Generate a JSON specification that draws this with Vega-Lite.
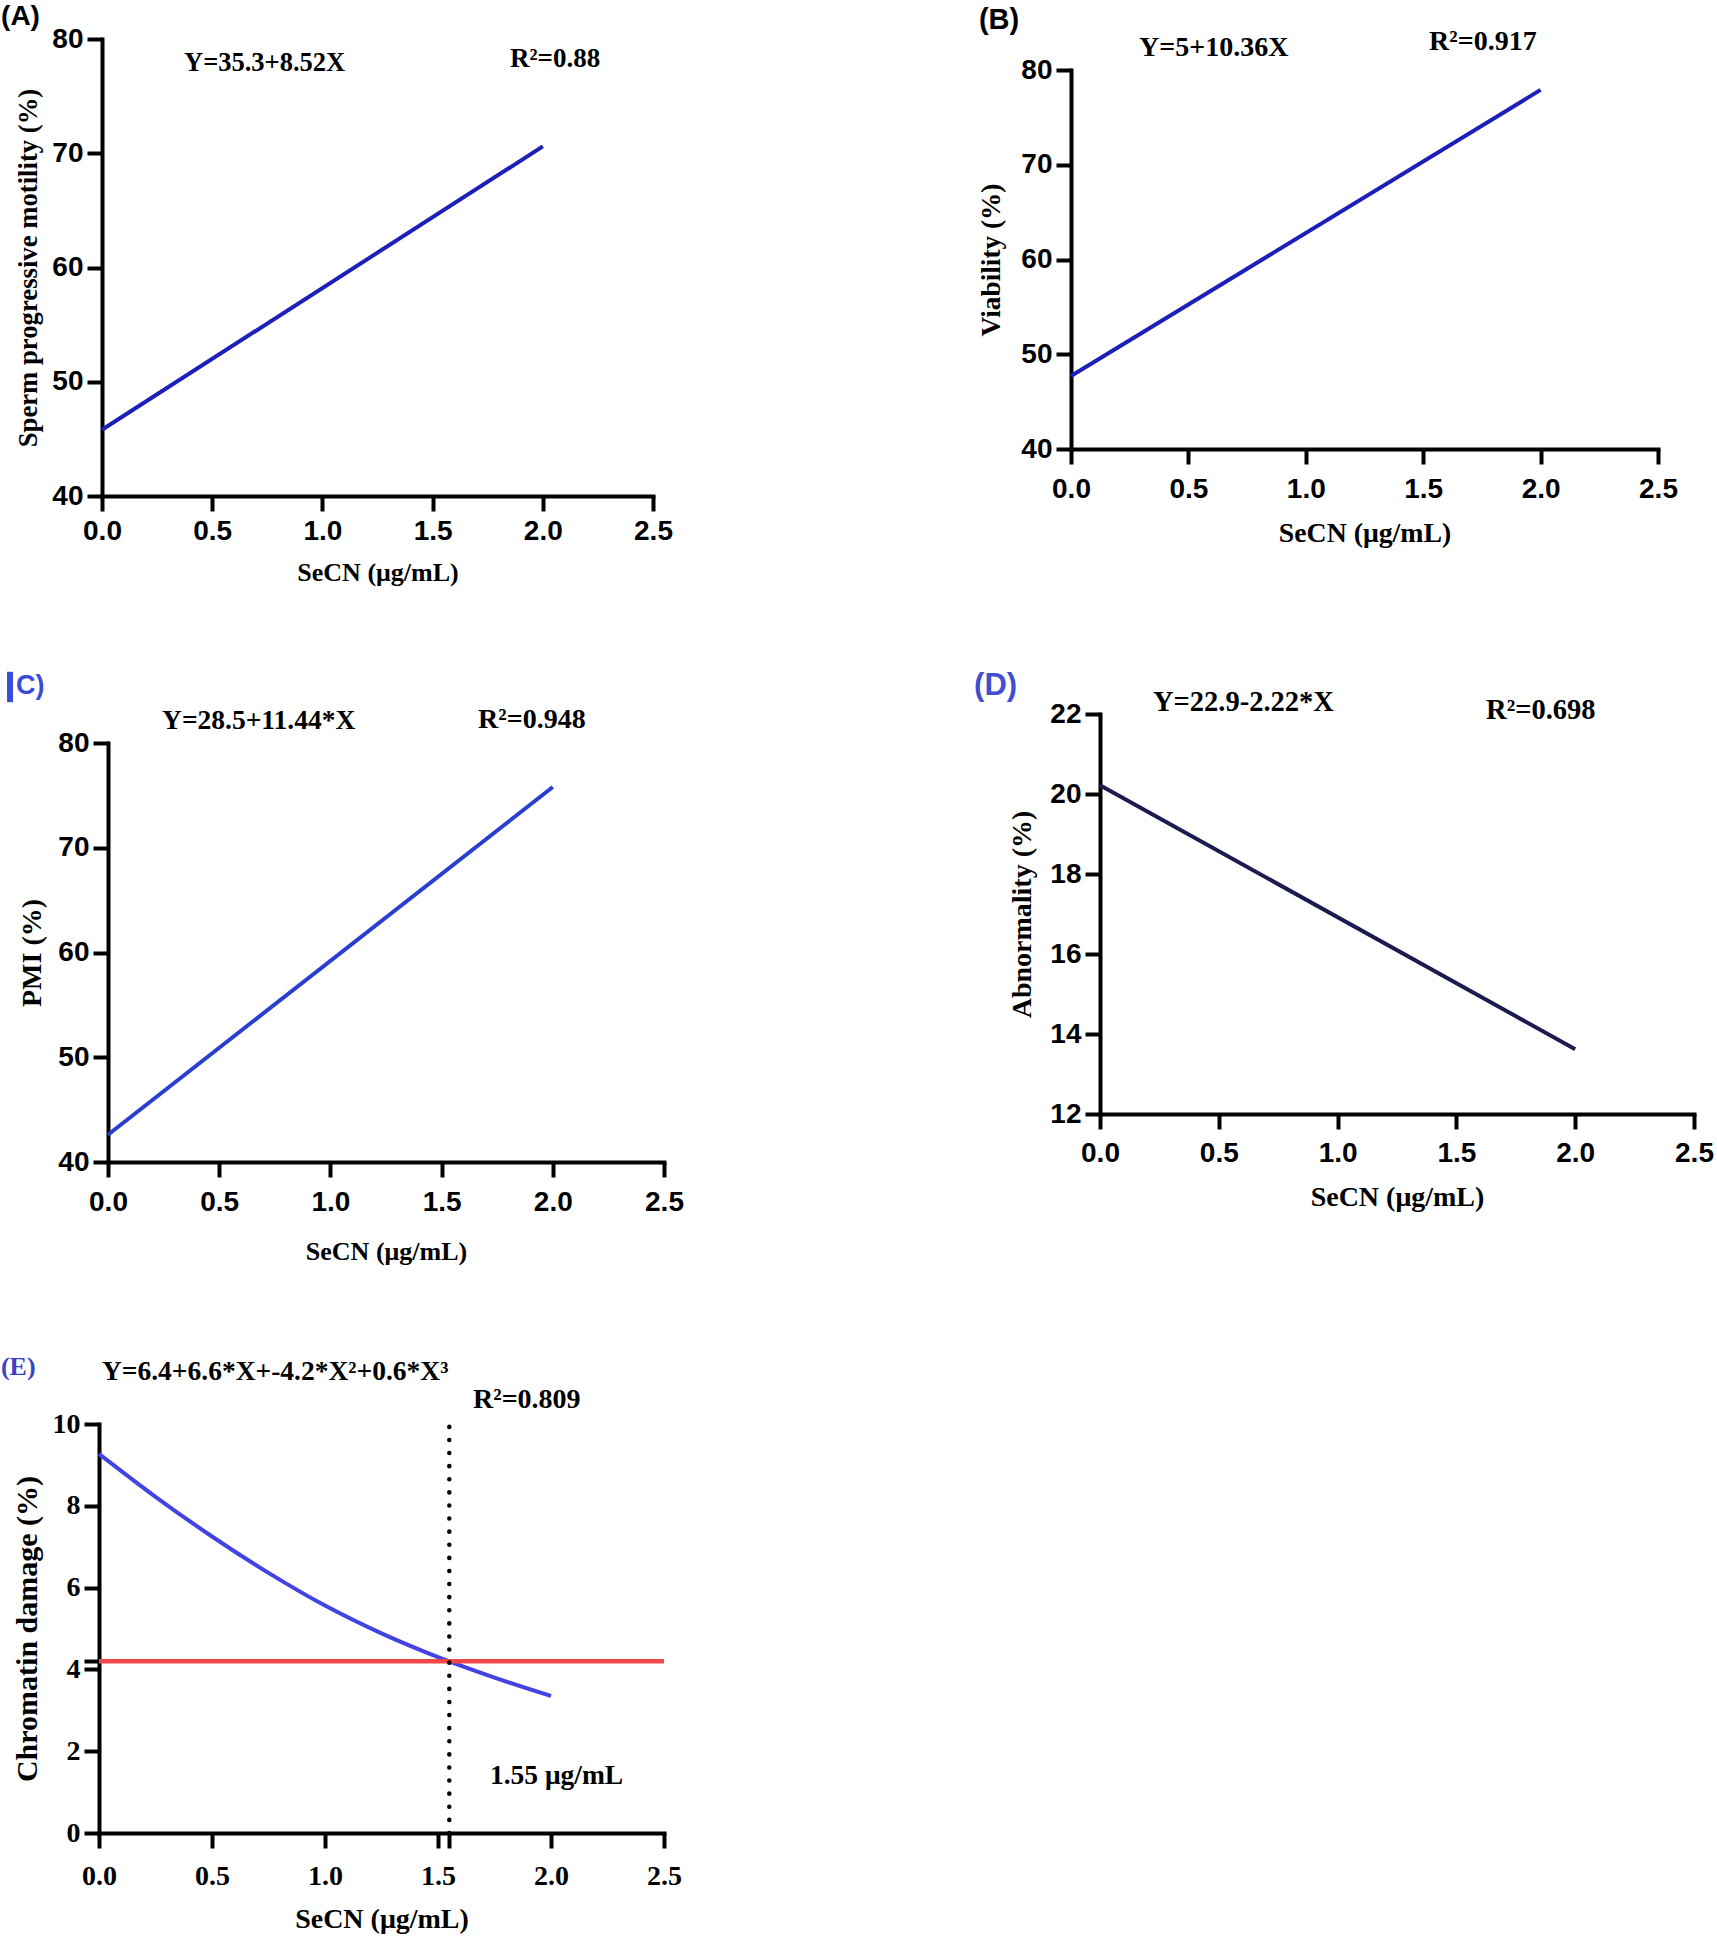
{
  "$schema": "https://vega.github.io/schema/vega-lite/v6.json",
  "padding": {"top": 3, "left": 0, "right": 0, "bottom": 0},
  "background": "white",
  "datasets": {
    "A": [{"x": 0, "y": 45.8}, {"x": 2, "y": 70.6}],
    "B": [{"x": 0, "y": 47.7}, {"x": 2, "y": 77.9}],
    "C": [{"x": 0, "y": 42.6}, {"x": 2, "y": 75.8}],
    "D": [{"x": 0, "y": 20.22}, {"x": 2, "y": 13.62}],
    "E": [{"x": 0, "y": 9.27}, {"x": 0.25, "y": 8.22}, {"x": 0.5, "y": 7.25}, {"x": 0.75, "y": 6.36}, {"x": 1, "y": 5.56}, {"x": 1.25, "y": 4.88}, {"x": 1.5, "y": 4.3}, {"x": 1.75, "y": 3.8}, {"x": 2, "y": 3.35}]
  },
  "config": {
    "view": {"stroke": null},
    "axis": {
      "domainColor": "black", "domainWidth": 4, "domainCap": "square",
      "tickColor": "black", "tickWidth": 4, "tickSize": 15,
      "grid": false, "labelColor": "black", "titleColor": "black",
      "labelFont": "Liberation Sans", "labelFontWeight": "bold", "labelFontSize": 28,
      "titleFont": "Liberation Serif", "titleFontWeight": "bold", "titleFontSize": 26,
      "labelOverlap": false, "labelFlush": false, "labelBound": false
    },
    "axisY": {"labelPadding": 4}
  },
  "concat": [
    {
      "concat": [
        {
          "concat": [
            {
              "width": 554, "height": 457,
              "layer": [
                {"data": {"name": "A"}, "mark": {"type": "line", "color": "#1c1fb8", "strokeWidth": 4},
                 "encoding": {
                   "x": {"field": "x", "type": "quantitative", "scale": {"domain": [0, 2.5], "nice": false, "zero": false, "range": [3, 554]}, "axis": {"values": [0, 0.5, 1, 1.5, 2, 2.5], "format": ".1f", "title": "SeCN (μg/mL)", "labelPadding": 6.5, "titlePadding": 14}},
                   "y": {"field": "y", "type": "quantitative", "scale": {"domain": [40, 80], "nice": false, "zero": false}, "axis": {"values": [40, 50, 60, 70, 80], "title": "Sperm progressive motility  (%)", "titleFontSize": 26.7, "titlePadding": 9, "offset": -3}}}},
                {"data": {"values": [{}]}, "mark": {"type": "text", "text": "(A)", "font": "Liberation Sans", "fontWeight": "bold", "fontSize": 28, "align": "left", "baseline": "middle", "color": "black"},
                 "encoding": {"x": {"datum": -0.458, "type": "quantitative"}, "y": {"datum": 81.9, "type": "quantitative"}}},
                {"data": {"values": [{}]}, "mark": {"type": "text", "text": "Y=35.3+8.52X", "font": "Liberation Serif", "fontWeight": "bold", "fontSize": 26.5, "align": "left", "baseline": "middle", "color": "black"},
                 "encoding": {"x": {"datum": 0.372, "type": "quantitative"}, "y": {"datum": 77.9, "type": "quantitative"}}},
                {"data": {"values": [{}]}, "mark": {"type": "text", "text": "R²=0.88", "font": "Liberation Serif", "fontWeight": "bold", "fontSize": 27, "align": "left", "baseline": "middle", "color": "black"},
                 "encoding": {"x": {"datum": 1.851, "type": "quantitative"}, "y": {"datum": 78.25, "type": "quantitative"}}}
              ]
            },
            {
              "width": 587, "height": 410,
              "layer": [
                {"data": {"name": "B"}, "mark": {"type": "line", "color": "#1c1fb8", "strokeWidth": 4},
                 "encoding": {
                   "x": {"field": "x", "type": "quantitative", "scale": {"domain": [0, 2.5], "nice": false, "zero": false}, "axis": {"values": [0, 0.5, 1, 1.5, 2, 2.5], "format": ".1f", "title": "SeCN (μg/mL)", "titleFontSize": 27.8, "labelPadding": 11, "titlePadding": 16.5}},
                   "y": {"field": "y", "type": "quantitative", "scale": {"domain": [40, 80], "nice": false, "zero": false, "range": [410, 31]}, "axis": {"values": [40, 50, 60, 70, 80], "title": "Viability (%)", "titleFontSize": 27.3, "titlePadding": 15}}}},
                {"data": {"values": [{}]}, "mark": {"type": "text", "text": "(B)", "font": "Liberation Sans", "fontWeight": "bold", "fontSize": 29, "align": "left", "baseline": "middle", "color": "black"},
                 "encoding": {"x": {"datum": -0.392, "type": "quantitative"}, "y": {"datum": 85.3, "type": "quantitative"}}},
                {"data": {"values": [{}]}, "mark": {"type": "text", "text": "Y=5+10.36X", "font": "Liberation Serif", "fontWeight": "bold", "fontSize": 28, "align": "left", "baseline": "middle", "color": "black"},
                 "encoding": {"x": {"datum": 0.29, "type": "quantitative"}, "y": {"datum": 82.3, "type": "quantitative"}}},
                {"data": {"values": [{}]}, "mark": {"type": "text", "text": "R²=0.917", "font": "Liberation Serif", "fontWeight": "bold", "fontSize": 28, "align": "left", "baseline": "middle", "color": "black"},
                 "encoding": {"x": {"datum": 1.525, "type": "quantitative"}, "y": {"datum": 82.96, "type": "quantitative"}}}
              ]
            }
          ],
          "columns": 2, "spacing": 304
        },
        {
          "concat": [
            {
              "width": 565, "height": 448,
              "layer": [
                {"data": {"name": "C"}, "mark": {"type": "line", "color": "#2a3ecf", "strokeWidth": 4},
                 "encoding": {
                   "x": {"field": "x", "type": "quantitative", "scale": {"domain": [0, 2.5], "nice": false, "zero": false, "range": [9, 565]}, "axis": {"values": [0, 0.5, 1, 1.5, 2, 2.5], "format": ".1f", "title": "SeCN (μg/mL)", "labelPadding": 11.5, "titlePadding": 21.5}},
                   "y": {"field": "y", "type": "quantitative", "scale": {"domain": [40, 80], "nice": false, "zero": false, "range": [448, 29]}, "axis": {"values": [40, 50, 60, 70, 80], "title": "PMI (%)", "titleFontSize": 28, "titlePadding": 11, "offset": -9}}}},
                {"data": {"values": [{}]}, "mark": {"type": "rect", "color": "#3b4bd8"},
                 "encoding": {"x": {"datum": -0.454, "type": "quantitative"}, "x2": {"datum": -0.427}, "y": {"datum": 83.9, "type": "quantitative"}, "y2": {"datum": 86.8}}},
                {"data": {"values": [{}]}, "mark": {"type": "text", "text": "C)", "font": "Liberation Sans", "fontWeight": "bold", "fontSize": 27, "align": "left", "baseline": "middle", "color": "#3b4bd8"},
                 "encoding": {"x": {"datum": -0.414, "type": "quantitative"}, "y": {"datum": 85.4, "type": "quantitative"}}},
                {"data": {"values": [{}]}, "mark": {"type": "text", "text": "Y=28.5+11.44*X", "font": "Liberation Serif", "fontWeight": "bold", "fontSize": 27.5, "align": "left", "baseline": "middle", "color": "black"},
                 "encoding": {"x": {"datum": 0.243, "type": "quantitative"}, "y": {"datum": 82.1, "type": "quantitative"}}},
                {"data": {"values": [{}]}, "mark": {"type": "text", "text": "R²=0.948", "font": "Liberation Serif", "fontWeight": "bold", "fontSize": 28, "align": "left", "baseline": "middle", "color": "black"},
                 "encoding": {"x": {"datum": 1.664, "type": "quantitative"}, "y": {"datum": 82.2, "type": "quantitative"}}}
              ]
            },
            {
              "width": 594, "height": 400,
              "layer": [
                {"data": {"name": "D"}, "mark": {"type": "line", "color": "#1b1b50", "strokeWidth": 4},
                 "encoding": {
                   "x": {"field": "x", "type": "quantitative", "scale": {"domain": [0, 2.5], "nice": false, "zero": false}, "axis": {"values": [0, 0.5, 1, 1.5, 2, 2.5], "format": ".1f", "title": "SeCN (μg/mL)", "titleFontSize": 28, "labelPadding": 10.5, "titlePadding": 15.5}},
                   "y": {"field": "y", "type": "quantitative", "scale": {"domain": [12, 22], "nice": false, "zero": false}, "axis": {"values": [12, 14, 16, 18, 20, 22], "title": "Abnormality (%)", "titleFontSize": 28, "titlePadding": 13.3}}}},
                {"data": {"values": [{}]}, "mark": {"type": "text", "text": "(D)", "font": "Liberation Sans", "fontWeight": "bold", "fontSize": 31, "align": "left", "baseline": "middle", "color": "#3f4fcf"},
                 "encoding": {"x": {"datum": -0.53, "type": "quantitative"}, "y": {"datum": 22.7, "type": "quantitative"}}},
                {"data": {"values": [{}]}, "mark": {"type": "text", "text": "Y=22.9-2.22*X", "font": "Liberation Serif", "fontWeight": "bold", "fontSize": 28.5, "align": "left", "baseline": "middle", "color": "black"},
                 "encoding": {"x": {"datum": 0.223, "type": "quantitative"}, "y": {"datum": 22.3, "type": "quantitative"}}},
                {"data": {"values": [{}]}, "mark": {"type": "text", "text": "R²=0.698", "font": "Liberation Serif", "fontWeight": "bold", "fontSize": 28.5, "align": "left", "baseline": "middle", "color": "black"},
                 "encoding": {"x": {"datum": 1.625, "type": "quantitative"}, "y": {"datum": 22.1, "type": "quantitative"}}}
              ]
            }
          ],
          "columns": 2, "spacing": 290
        }
      ],
      "columns": 1, "spacing": 84
    },
    {
      "width": 565, "height": 409,
      "layer": [
        {"data": {"name": "E"}, "mark": {"type": "line", "color": "#4343e3", "strokeWidth": 4, "interpolate": "monotone"},
         "encoding": {
           "x": {"field": "x", "type": "quantitative", "scale": {"domain": [0, 2.5], "nice": false, "zero": false}, "axis": {"values": [0, 0.5, 1, 1.5, 1.55, 2, 2.5], "format": ".1f", "labelExpr": "datum.value == 1.55 ? '' : datum.label", "labelFont": "Liberation Serif", "title": "SeCN (μg/mL)", "titleFontSize": 28, "labelPadding": 14, "titlePadding": 15.5}},
           "y": {"field": "y", "type": "quantitative", "scale": {"domain": [0, 10], "nice": false, "zero": false}, "axis": {"values": [0, 2, 4, 4.2, 6, 8, 10], "format": "d", "labelExpr": "datum.value == 4.2 ? '' : datum.label", "labelFont": "Liberation Serif", "title": "Chromatin damage (%)", "titleFontSize": 30, "titlePadding": 10}}}},
        {"data": {"values": [{}]}, "mark": {"type": "rule", "color": "#f04848", "strokeWidth": 4.5},
         "encoding": {"x": {"datum": 0, "type": "quantitative"}, "x2": {"datum": 2.5}, "y": {"datum": 4.2, "type": "quantitative"}}},
        {"data": {"values": [{}]}, "mark": {"type": "rule", "color": "black", "strokeWidth": 4.5, "strokeDash": [0.1, 13], "strokeCap": "round"},
         "encoding": {"x": {"datum": 1.55, "type": "quantitative"}, "y": {"datum": 0, "type": "quantitative"}, "y2": {"datum": 10}}},
        {"data": {"values": [{}]}, "mark": {"type": "text", "text": "(E)", "font": "Liberation Serif", "fontWeight": "bold", "fontSize": 26, "align": "left", "baseline": "middle", "color": "#3a40c8"},
         "encoding": {"x": {"datum": -0.434, "type": "quantitative"}, "y": {"datum": 11.39, "type": "quantitative"}}},
        {"data": {"values": [{}]}, "mark": {"type": "text", "text": "Y=6.4+6.6*X+-4.2*X²+0.6*X³", "font": "Liberation Serif", "fontWeight": "bold", "fontSize": 27.5, "align": "left", "baseline": "middle", "color": "black"},
         "encoding": {"x": {"datum": 0.013, "type": "quantitative"}, "y": {"datum": 11.27, "type": "quantitative"}}},
        {"data": {"values": [{}]}, "mark": {"type": "text", "text": "R²=0.809", "font": "Liberation Serif", "fontWeight": "bold", "fontSize": 28, "align": "left", "baseline": "middle", "color": "black"},
         "encoding": {"x": {"datum": 1.655, "type": "quantitative"}, "y": {"datum": 10.59, "type": "quantitative"}}},
        {"data": {"values": [{}]}, "mark": {"type": "text", "text": "1.55 μg/mL", "font": "Liberation Serif", "fontWeight": "bold", "fontSize": 27.5, "align": "left", "baseline": "middle", "color": "black"},
         "encoding": {"x": {"datum": 1.73, "type": "quantitative"}, "y": {"datum": 1.39, "type": "quantitative"}}}
      ]
    }
  ],
  "columns": 1, "spacing": 90
}
